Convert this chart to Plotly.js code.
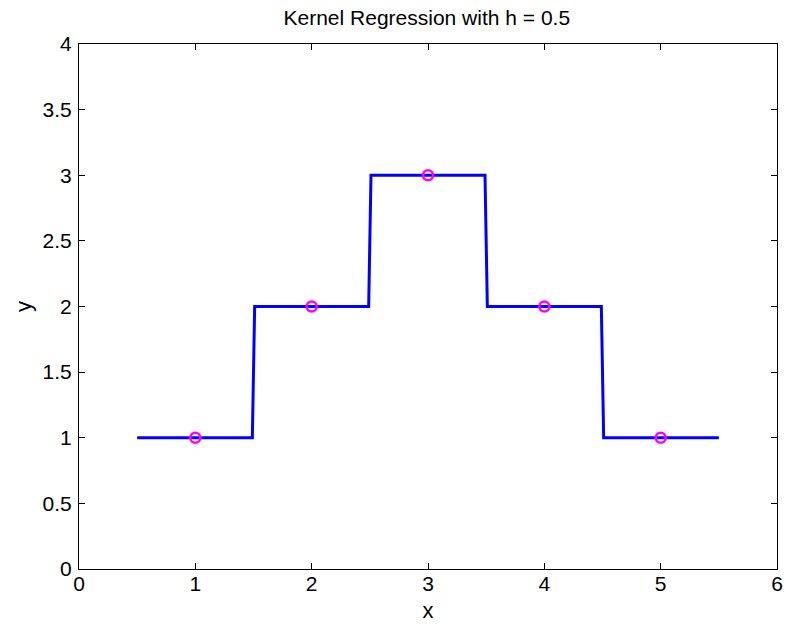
<!DOCTYPE html>
<html><head><meta charset="utf-8">
<script src="https://cdn.plot.ly/plotly-3.0.1.min.js"></script>
<style>body{margin:0;background:#fff}#c{width:786px;height:624px}</style>
</head><body><div id="c"></div>
<script>
const fitX = [0.5, 1.49, 1.51, 2.49, 2.51, 3.49, 3.51, 4.49, 4.51, 5.5];
const fitY = [1, 1, 2, 2, 3, 3, 2, 2, 1, 1];
const dataX = [1, 2, 3, 4, 5];
const dataY = [1, 2, 3, 2, 1];
const xTicks = [0, 1, 2, 3, 4, 5, 6];
const yTicks = [0, 0.5, 1, 1.5, 2, 2.5, 3, 3.5, 4];

const font = {family: 'Liberation Sans, Arial, sans-serif', color: '#000'};
const axisBase = {
  showgrid: false, zeroline: false, showline: true, linecolor: '#000', linewidth: 1,
  mirror: 'ticks', ticks: 'inside', ticklen: 6, tickcolor: '#000',
  tickfont: Object.assign({size: 21}, font)
};
Plotly.newPlot('c', [
  {x: fitX, y: fitY, mode: 'lines', line: {color: '#0000FF', width: 3}, hoverinfo: 'skip'},
  {x: dataX, y: dataY, mode: 'markers',
   marker: {symbol: 'circle-open', size: 10, color: '#FF00FF', line: {width: 2.5, color: '#FF00FF'}}}
], {
  width: 786, height: 624, showlegend: false,
  paper_bgcolor: '#fff', plot_bgcolor: '#fff',
  margin: {l: 79, r: 9, t: 44, b: 55},
  title: {text: 'Kernel Regression with h = 0.5', font: Object.assign({size: 21}, font), x: 0.543, xanchor: 'center', y: 0.971, yanchor: 'middle'},
  xaxis: Object.assign({}, axisBase, {range: [0, 6], tickvals: xTicks, ticktext: xTicks.map(String),
    ticklabelstandoff: -4,
    title: {text: 'x', font: Object.assign({size: 22}, font), standoff: 8}}),
  yaxis: Object.assign({}, axisBase, {range: [0, 4], tickvals: yTicks, ticktext: yTicks.map(String),
    ticklabelstandoff: 2,
    title: {text: 'y', font: Object.assign({size: 22}, font), standoff: 4}})
}, {displayModeBar: false, staticPlot: true});
</script></body></html>
